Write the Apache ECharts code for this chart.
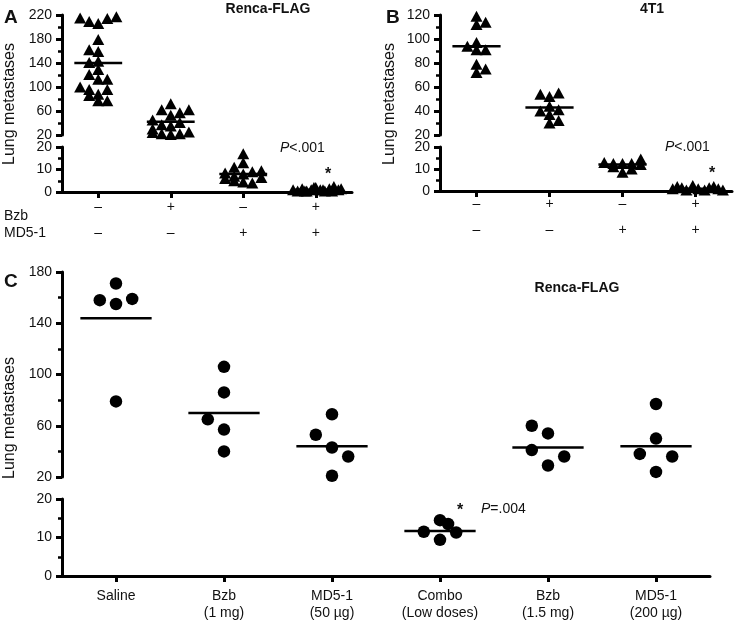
<!DOCTYPE html>
<html><head><meta charset="utf-8">
<script src="https://cdn.jsdelivr.net/npm/echarts@6/dist/echarts.min.js"></script>
<style>html,body{margin:0;padding:0;background:#fff}#c{width:743px;height:628px}</style>
</head><body><div id="c"></div>
<script>
const FONT = '"Liberation Sans", Arial, Helvetica, sans-serif';
const INK = '#111';

// ---------- Panel A (Renca-FLAG) ----------
const aCategories = ['–\n–', '+\n–', '–\n+', '+\n+'];
const aVals1 = [215,209,206,214,217,179,162,159,141,143,129,121,113,113,100,96,96,88,86,77,77];
const aCols1 = [-2,-1,0,1,2,0,-1,0,-1,0,0,-1,0,1,-2,-1,1,0,-1,0,1];
const aVals2 = [72,62,57,62,53,45,41,37,35,30,24,22,21,22,25];
const aCols2 = [0,-1,1,2,0,-2,1,-1,0,-2,-2,-1,0,1,2];
const aVals3 = [17,13,11,8.5,8,9,9.5,6,5,4.5,4,6.5,7];
const aCols3 = [0,0,-1,-2,0,1,2,-2,-1,0,1,2,-1];
const aVals4 = [1,0.5,1.5,0.5,1,2,1,0.5,1.5,2.5,1,0.5,2,1,0.5,1.5];
const aCols4 = [-2.5,-2,-1.5,-1,-0.5,0,0.5,1,1.5,2,2.5,-1.2,-0.2,0.8,1.8,2.8];
const aMedians = [140, 42, 8, 1];

// ---------- Panel B (4T1) ----------
const bCategories = ['–\n–', '+\n–', '–\n+', '+\n+'];
const bVals1 = [119,112,114,94,97,91,91,79,72,75];
const bCols1 = [0,0,1,-1,0,0,1,0,0,1];
const bVals2 = [54,52,55,40,44,41,37,30,32];
const bCols2 = [-1,0,1,-1,0,1,0,0,1];
const bVals3 = [13,12.5,12.5,12.5,14.5,11,8.5,10,12];
const bCols3 = [-2,-1,0,1,2,-1,0,1,2];
const bVals4 = [1,2,1.5,0.5,2.5,1,0.5,1.5,2,1,0.5];
const bCols4 = [-2.5,-2,-1.5,-1,-0.3,0.3,1,1.5,2,2.5,3];
const bMedians = [94, 43, 12, 1];

// ---------- Panel C (Renca-FLAG doses) ----------
const cCategories = ['Saline', 'Bzb\n(1 mg)', 'MD5-1\n(50 µg)', 'Combo\n(Low doses)', 'Bzb\n(1.5 mg)', 'MD5-1\n(200 µg)'];
const cVals = [
  [171,158,155,159,79],
  [106,86,65,57,40],
  [69,53,43,36,21],
  [14.5,13.5,11.5,11.3,9.4],
  [60,54,41,36,29],
  [77,50,38,36,24]
];
const cCols = [
  [0,-1,0,1,0],
  [0,0,-1,0,0],
  [0,-1,0,1,0],
  [0,0.5,-1,1,0],
  [-1,0,-1,1,0],
  [0,0,-1,1,0]
];
const cMedians = [144, 70, 44, 11.7, 43, 44];

const BREAK = 20;

function pts(valsList, colsList, step, upper) {
  const out = [];
  valsList.forEach((vals, g) => {
    vals.forEach((v, i) => {
      if ((v >= BREAK) === upper) out.push([g + 1 + colsList[g][i] * step, v]);
    });
  });
  return out;
}
function meds(medians, upper) {
  const out = [];
  medians.forEach((m, g) => { if ((m >= BREAK) === upper) out.push([g + 1, m]); });
  return out;
}
const medianRender = (hw) => function (params, api) {
  const x = api.value(0), y = api.value(1);
  const p1 = api.coord([x - hw, y]), p2 = api.coord([x + hw, y]);
  return { type: 'line', shape: { x1: p1[0], y1: p1[1], x2: p2[0], y2: p2[1] },
    style: { stroke: '#000', lineWidth: 2.5 } };
};

const grids = [
  { left: 62, top: 15, width: 290, height: 120 },   // A up
  { left: 62, top: 147, width: 290, height: 45 },   // A low
  { left: 440, top: 15, width: 292, height: 120 },  // B up
  { left: 440, top: 147, width: 292, height: 44 },  // B low
  { left: 62, top: 272, width: 648, height: 205 },  // C up
  { left: 62, top: 499, width: 648, height: 77 }    // C low
];

const ncat = [4, 4, 4, 4, 6, 6];
const xAxes = grids.map((g, i) => ({
  type: 'value', gridIndex: i, min: 0.5, max: ncat[i] + 0.5, show: false
}));
const catAxis = (gi, data, lh, margin) => ({
  type: 'category', gridIndex: gi, data: data, boundaryGap: true, position: 'bottom',
  axisLine: { show: true, lineStyle: { color: '#000', width: 3 } },
  axisTick: { show: true, alignWithLabel: true, length: 6, lineStyle: { color: '#000', width: 3 } },
  axisLabel: { interval: 0, fontSize: 14, lineHeight: lh, margin: margin, color: INK, fontFamily: FONT },
  splitLine: { show: false }
});
xAxes.push(catAxis(1, aCategories, 26, 2));
xAxes.push(catAxis(3, bCategories, 26, 0));
xAxes.push(catAxis(5, cCategories, 17, 12));

const yAx = (gi, min, max, interval) => ({
  type: 'value', gridIndex: gi, min: min, max: max, interval: interval,
  axisLine: { show: true, lineStyle: { color: '#000', width: 3 } },
  axisTick: { show: true, length: 6, lineStyle: { color: '#000', width: 3 } },
  minorTick: { show: true, splitNumber: 2, length: 4, lineStyle: { color: '#000', width: 2.5 } },
  axisLabel: { fontSize: 14, margin: 10, color: INK, fontFamily: FONT },
  splitLine: { show: false }, minorSplitLine: { show: false }
});
const yAxes = [
  yAx(0, 20, 220, 40), yAx(1, 0, 20, 10),
  yAx(2, 20, 120, 20), yAx(3, 0, 20, 10),
  yAx(4, 20, 180, 40), yAx(5, 0, 20, 10)
];

const tri = { symbol: 'triangle', symbolSize: [12, 11] };
const dot = { symbol: 'circle', symbolSize: 12.5 };
const series = [];
function addPanel(gUp, gLow, valsList, colsList, step, medians, mk) {
  [[gUp, true], [gLow, false]].forEach(([gi, up]) => {
    series.push(Object.assign({
      type: 'scatter', xAxisIndex: gi, yAxisIndex: gi, clip: false,
      itemStyle: { color: '#000', opacity: 1 }, data: pts(valsList, colsList, step, up), z: 3
    }, mk));
    series.push({
      type: 'custom', xAxisIndex: gi, yAxisIndex: gi, clip: false, z: 4,
      renderItem: medianRender(0.33), data: meds(medians, up)
    });
  });
}
addPanel(0, 1, [aVals1, aVals2, aVals3, aVals4], [aCols1, aCols2, aCols3, aCols4], 0.125, aMedians, tri);
addPanel(2, 3, [bVals1, bVals2, bVals3, bVals4], [bCols1, bCols2, bCols3, bCols4], 0.125, bMedians, tri);
addPanel(4, 5, cVals, cCols, 0.15, cMedians, dot);

const txt = (x, y, text, o) => ({
  type: 'text', x: x, y: y, silent: true,
  style: Object.assign({ text: text, fill: INK, font: '14px ' + FONT, align: 'left', verticalAlign: 'middle' }, o || {})
});
const vtitle = (x, y) => ({
  type: 'text', x: x, y: y, rotation: Math.PI / 2, silent: true,
  style: { text: 'Lung metastases', fill: INK, font: '16px ' + FONT, align: 'center', verticalAlign: 'middle' }
});
const pRich = { i: { fontStyle: 'italic', fontSize: 14, fontFamily: FONT, fill: INK }, n: { fontSize: 14, fontFamily: FONT, fill: INK } };

const graphic = [
  txt(4, 18, 'A', { font: 'bold 19px ' + FONT }),
  txt(386, 18, 'B', { font: 'bold 19px ' + FONT }),
  txt(4, 282, 'C', { font: 'bold 19px ' + FONT }),
  txt(268, 9, 'Renca-FLAG', { font: 'bold 14px ' + FONT, align: 'center' }),
  txt(652, 9, '4T1', { font: 'bold 14px ' + FONT, align: 'center' }),
  txt(577, 288, 'Renca-FLAG', { font: 'bold 14px ' + FONT, align: 'center' }),
  vtitle(10, 104), vtitle(390, 104), vtitle(10, 418),
  txt(4, 216, 'Bzb'), txt(4, 233, 'MD5-1'),
  txt(280, 148, '{i|P}{n|<.001}', { rich: pRich }),
  txt(665, 147, '{i|P}{n|<.001}', { rich: pRich }),
  txt(481, 509, '{i|P}{n|=.004}', { rich: pRich }),
  txt(328, 175, '*', { font: 'bold 16px ' + FONT, align: 'center' }),
  txt(712, 174, '*', { font: 'bold 16px ' + FONT, align: 'center' }),
  txt(460, 511, '*', { font: 'bold 16px ' + FONT, align: 'center' })
];

const chart = echarts.init(document.getElementById('c'), null, { renderer: 'canvas' });
chart.setOption({
  animation: false, backgroundColor: '#fff',
  textStyle: { fontFamily: FONT },
  grid: grids, xAxis: xAxes, yAxis: yAxes, series: series, graphic: graphic
});
</script></body></html>
